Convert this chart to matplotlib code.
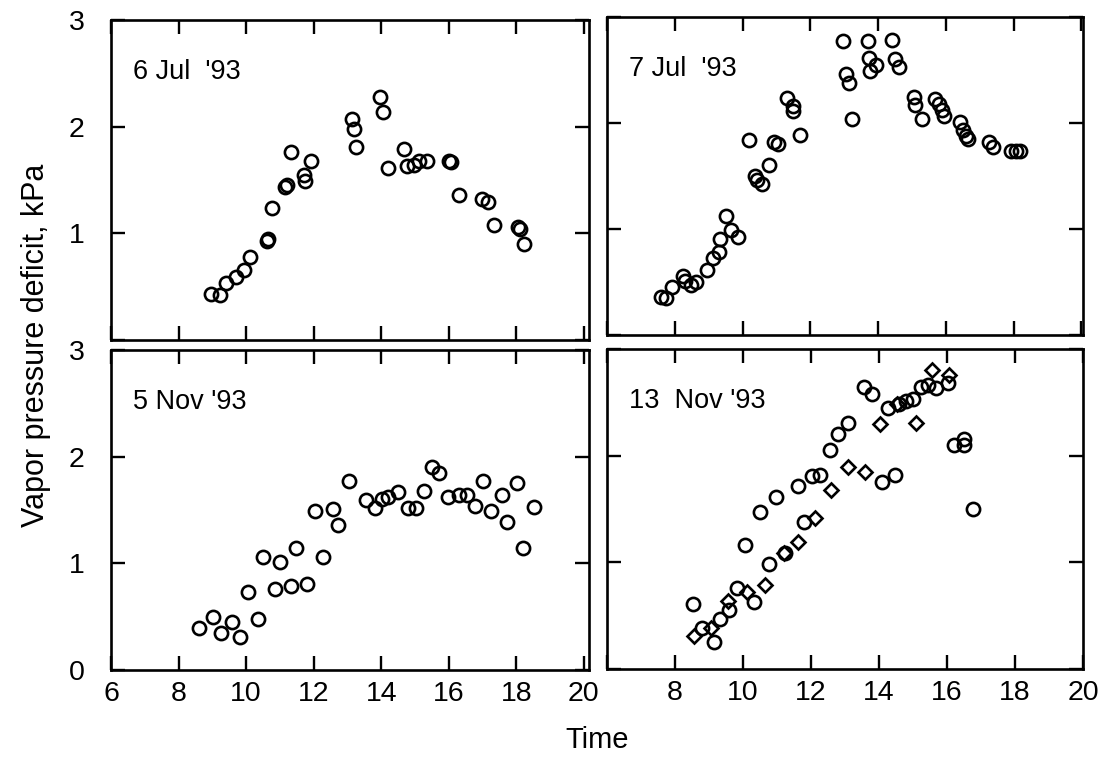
import matplotlib
matplotlib.use("Agg")
import matplotlib.pyplot as plt

plt.rcParams['font.family'] = ['Liberation Sans', 'DejaVu Sans']

# ---- Data ----
jul6_x = [8.96, 9.24, 9.39, 9.70, 9.95, 10.11, 10.62, 10.65, 10.78, 11.15, 11.20, 11.32,
          11.71, 11.74, 11.91, 13.12, 13.20, 13.25, 13.95, 14.04, 14.19, 14.68, 14.76,
          14.98, 15.13, 15.35, 16.02, 16.07, 16.30, 16.98, 17.16, 17.34, 18.05, 18.10, 18.23]
jul6_y = [0.43, 0.42, 0.53, 0.59, 0.66, 0.78, 0.93, 0.95, 1.24, 1.43, 1.45, 1.76,
          1.55, 1.49, 1.68, 2.07, 1.98, 1.81, 2.28, 2.14, 1.61, 1.79, 1.63,
          1.64, 1.68, 1.68, 1.68, 1.67, 1.36, 1.32, 1.29, 1.08, 1.06, 1.04, 0.90]

jul7_x = [7.58, 7.75, 7.93, 8.23, 8.30, 8.48, 8.64, 8.94, 9.12, 9.30, 9.35, 9.50, 9.66,
          9.88, 10.19, 10.36, 10.44, 10.57, 10.77, 10.93, 11.05, 11.30, 11.48, 11.50,
          11.69, 12.98, 13.05, 13.13, 13.23, 13.70, 13.72, 13.77, 13.94, 14.42, 14.50,
          14.61, 15.06, 15.09, 15.29, 15.68, 15.80, 15.88, 15.95, 16.43, 16.50, 16.60,
          16.65, 17.27, 17.39, 17.93, 18.08, 18.20]
jul7_y = [0.36, 0.35, 0.45, 0.56, 0.51, 0.47, 0.50, 0.61, 0.73, 0.78, 0.91, 1.12, 0.99,
          0.92, 1.84, 1.50, 1.46, 1.42, 1.60, 1.82, 1.80, 2.24, 2.16, 2.11,
          1.89, 2.77, 2.46, 2.38, 2.04, 2.77, 2.61, 2.49, 2.55, 2.78, 2.60,
          2.53, 2.25, 2.17, 2.04, 2.23, 2.18, 2.12, 2.07, 2.01, 1.93, 1.88,
          1.85, 1.82, 1.77, 1.74, 1.74, 1.74]

nov5_x = [8.61, 9.02, 9.27, 9.58, 9.82, 10.05, 10.36, 10.50, 10.85, 11.00, 11.32, 11.47,
          11.79, 12.04, 12.28, 12.58, 12.73, 13.04, 13.54, 13.81, 14.01, 14.20, 14.49,
          14.80, 15.04, 15.26, 15.51, 15.72, 15.98, 16.30, 16.54, 16.79, 17.01, 17.26,
          17.56, 17.72, 18.02, 18.20, 18.51]
nov5_y = [0.39, 0.50, 0.35, 0.45, 0.31, 0.73, 0.48, 1.06, 0.76, 1.01, 0.79, 1.14,
          0.81, 1.49, 1.06, 1.51, 1.36, 1.77, 1.59, 1.52, 1.60, 1.62, 1.67,
          1.52, 1.52, 1.68, 1.90, 1.85, 1.62, 1.64, 1.64, 1.54, 1.77, 1.49,
          1.64, 1.39, 1.75, 1.14, 1.53]

nov13_cx = [8.54, 8.79, 9.16, 9.33, 9.59, 9.82, 10.05, 10.31, 10.51, 10.75, 10.98, 11.24,
            11.62, 11.79, 12.02, 12.26, 12.57, 12.80, 13.09, 13.56, 13.78, 14.08, 14.27,
            14.47, 14.59, 14.78, 15.00, 15.23, 15.45, 15.69, 16.04, 16.21, 16.49, 16.51,
            16.75]
nov13_cy = [0.61, 0.38, 0.25, 0.47, 0.55, 0.76, 1.16, 0.63, 1.47, 0.98, 1.61, 1.09,
            1.72, 1.38, 1.81, 1.82, 2.05, 2.20, 2.31, 2.64, 2.58, 1.75, 2.45,
            1.82, 2.48, 2.51, 2.53, 2.64, 2.66, 2.63, 2.68, 2.10, 2.16, 2.10,
            1.50]
nov13_dx = [8.57, 9.06, 9.57, 10.11, 10.65, 11.20, 11.62, 12.13, 12.60, 13.09, 13.59,
            14.02, 14.54, 15.10, 15.55, 16.06]
nov13_dy = [0.31, 0.38, 0.64, 0.72, 0.79, 1.09, 1.19, 1.42, 1.68, 1.89, 1.85,
            2.30, 2.48, 2.31, 2.80, 2.76]

panel_labels = ["6 Jul  '93", "7 Jul  '93", "5 Nov '93", "13  Nov '93"]
x_ticks = [6, 8, 10, 12, 14, 16, 18, 20]
y_ticks = [0, 1, 2, 3]

# ---- Figure ----
fig = plt.figure(figsize=(11.07, 7.58), dpi=100)
W, H = 1107, 758

def ax_at(x0, x1, ytop, ybot):
    return fig.add_axes([x0 / W, 1 - ybot / H, (x1 - x0) / W, (ybot - ytop) / H])

ax_tl = ax_at(111, 589, 20, 340)
ax_tr = ax_at(607, 1083, 17, 335)
ax_bl = ax_at(111, 589, 350, 670)
ax_br = ax_at(607, 1083, 349, 669)

circ = dict(marker='o', linestyle='none', markersize=9.5, markerfacecolor='none',
            markeredgecolor='black', markeredgewidth=1.9)
diam = dict(marker='D', linestyle='none', markersize=7, markerfacecolor='none',
            markeredgecolor='black', markeredgewidth=1.9)

ax_tl.plot(jul6_x, jul6_y, **circ)
ax_tr.plot(jul7_x, jul7_y, **circ)
ax_bl.plot(nov5_x, nov5_y, **circ)
ax_br.plot(nov13_cx, nov13_cy, **circ)
ax_br.plot(nov13_dx, nov13_dy, **diam)

for ax, lab in zip([ax_tl, ax_tr, ax_bl, ax_br], panel_labels):
    ax.set_xlim(6, 20.15)
    ax.set_ylim(0, 3)
    ax.set_xticks(x_ticks)
    ax.set_yticks(y_ticks)
    ax.tick_params(direction='in', length=10, width=1.7, top=True, right=True,
                   labelsize=20.5)
    ax.tick_params(axis='x', pad=8)
    ax.tick_params(axis='y', pad=19)
    for s in ax.spines.values():
        s.set_linewidth(1.9)
    ax.text(0.047, 0.837, lab, transform=ax.transAxes, fontsize=19.5,
            ha='left', va='center')

ax_tr.set_xlim(6, 20.05)
ax_br.set_xlim(6, 20.0)

# Tick label visibility
ax_tl.tick_params(labelbottom=False)
ax_tr.tick_params(labelbottom=False, labelleft=False)
ax_br.tick_params(labelleft=False)
ax_tl.set_yticklabels(['', '1', '2', '3'])
ax_br.set_xticklabels(['', '8', '10', '12', '14', '16', '18', '20'])

fig.text(597 / W, 1 - 748 / H, 'Time', fontsize=21,
         ha='center', va='baseline')
fig.text(36 / W, 1 - 345 / H, 'Vapor pressure deficit, kPa', fontsize=22,
         rotation=90, ha='center', va='center')

fig.savefig('out.png', dpi=100)
